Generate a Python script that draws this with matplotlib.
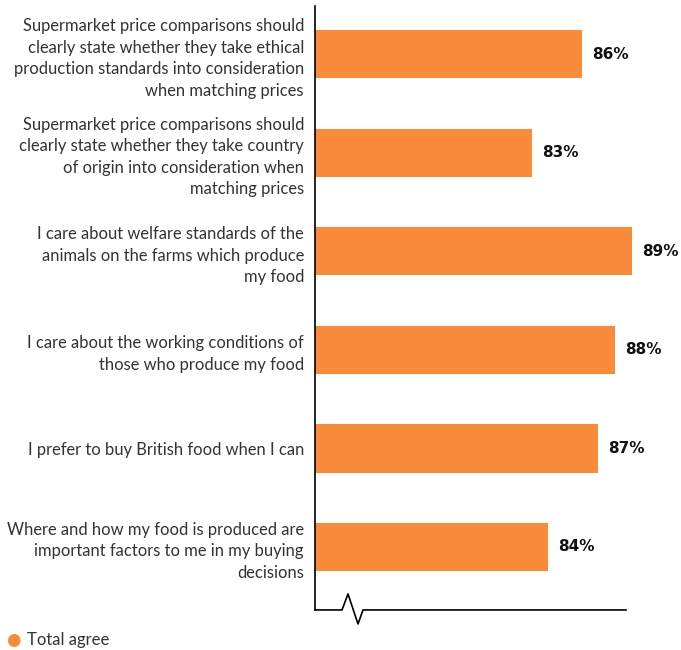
import matplotlib
matplotlib.use("Agg")
import matplotlib.pyplot as plt
from matplotlib.lines import Line2D

categories = [
    "Supermarket price comparisons should\nclearly state whether they take ethical\nproduction standards into consideration\nwhen matching prices",
    "Supermarket price comparisons should\nclearly state whether they take country\nof origin into consideration when\nmatching prices",
    "I care about welfare standards of the\nanimals on the farms which produce\nmy food",
    "I care about the working conditions of\nthose who produce my food",
    "I prefer to buy British food when I can",
    "Where and how my food is produced are\nimportant factors to me in my buying\ndecisions",
]
values = [86, 83, 89, 88, 87, 84]
value_labels = ["86%", "83%", "89%", "88%", "87%", "84%"]
series_name = "Total agree"

COLOR = "#F98B3B"
TEXT = "#333333"
X0 = 70

fig = plt.figure(figsize=(6.81, 6.5), dpi=100)
ax = fig.add_axes([315/681, (650-610)/650, (681-315)/681, (610-6)/650])

pos = list(range(len(values)))
widths = [v - X0 for v in values]
ax.barh(pos, widths, left=X0, height=0.49, color=COLOR, zorder=2)

ppd = 16.667  # px per percent
ax.set_xlim(X0, X0 + 366/ppd)
ax.set_ylim(5.64, -0.49)

for p, v, lab in zip(pos, values, value_labels):
    ax.text(v + 10/ppd, p, lab, va="center", ha="left", fontsize=11,
            fontweight="heavy", color="#111111", family="DejaVu Sans")

ax.set_yticks(pos)
ax.set_yticklabels(categories, fontsize=11.9, color=TEXT, family="Lato",
                   ha="right", multialignment="right", linespacing=1.42)
ax.tick_params(axis="y", length=0, pad=8)
ax.set_xticks([])
for s in ["top", "right", "bottom"]:
    ax.spines[s].set_visible(False)
ax.spines["left"].set_linewidth(1.2)
ax.spines["left"].set_color("black")

# broken baseline with zigzag (pixel offsets converted to data units)
def px(x):
    return X0 + (x - 315) / ppd
def py(y):
    return (y - 54.5) / 98.5
zx = [px(315), px(342), px(348), px(358), px(363), px(626)]
zy = [py(610), py(610), py(594), py(624), py(610), py(610)]
ax.add_line(Line2D(zx, zy, color="black", lw=1.2, clip_on=False))

# legend
fig.text(13/681, 1 - 640/650, "\u25CF", color=COLOR, fontsize=12, ha="center", va="center")
fig.text(27/681, 1 - 640/650, series_name, color=TEXT, fontsize=12, family="Lato",
         ha="left", va="center")

fig.savefig("out.png", dpi=100)
